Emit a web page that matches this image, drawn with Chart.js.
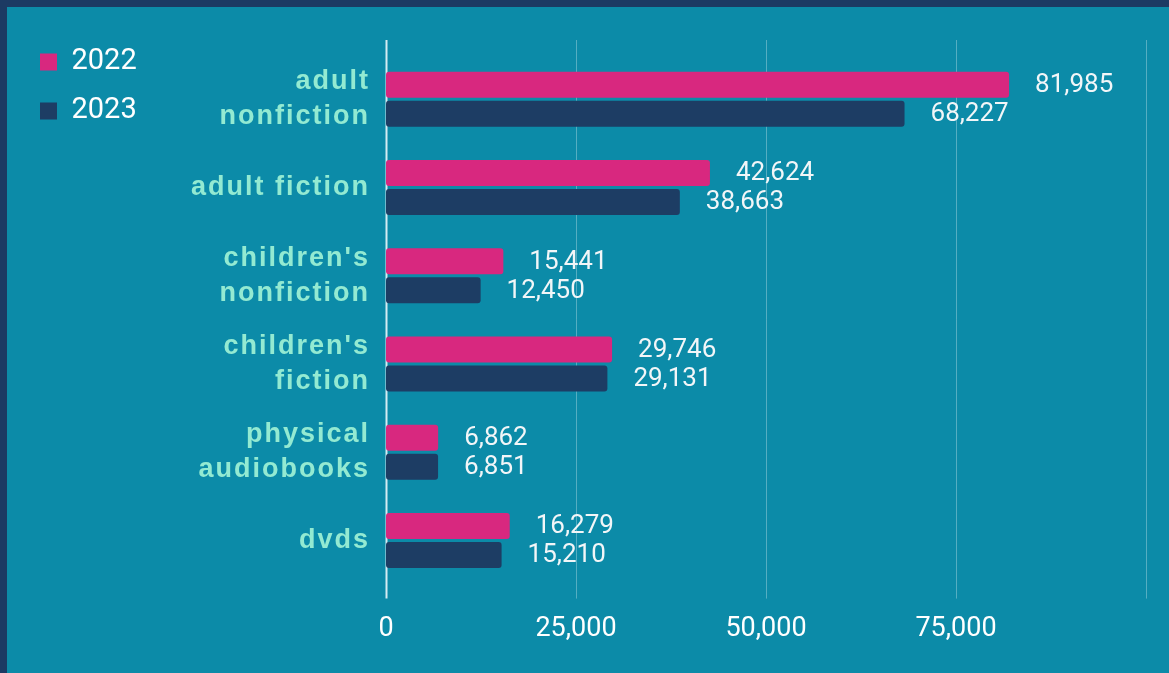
<!DOCTYPE html>
<html>
<head>
<meta charset="utf-8">
<script src="https://cdn.jsdelivr.net/npm/chart.js@4.4.1/dist/chart.umd.min.js"></script>
<style>
  html, body { margin: 0; padding: 0; background: #1c3a63; }
  #wrap { position: absolute; left: 7px; top: 7px; width: 1162px; height: 666px; background: #0c8ba8; }
</style>
</head>
<body>
<div id="wrap"><canvas id="chart"></canvas></div>
<script>
// chart values
var categories = [["adult", "nonfiction"], "adult fiction", ["children's", "nonfiction"], ["children's", "fiction"], ["physical", "audiobooks"], "dvds"];
var series2022 = [81985, 42624, 15441, 29746, 6862, 16279];
var series2023 = [68227, 38663, 12450, 29131, 6851, 15210];
var xTicks = [0, 25000, 50000, 75000, 100000];

// grid lines run a little past the plot area, drawn under the bars
var gridPlugin = {
  id: "gridExtend",
  beforeDraw: function(chart) {
    // letter spacing for the category labels
    var ys = chart.scales.y;
    if (!ys._patched) {
      var origY = ys.drawLabels;
      ys.drawLabels = function(area) {
        this.ctx.save();
        this.ctx.letterSpacing = "2px";
        origY.call(this, area);
        this.ctx.restore();
      };
      ys._patched = true;
    }
  },
  beforeDatasetsDraw: function(chart) {
    var ctx = chart.ctx, x = chart.scales.x, area = chart.chartArea;
    ctx.save();
    xTicks.forEach(function(v) {
      var px = Math.round(x.getPixelForValue(v)) + 0.5;
      ctx.strokeStyle = v === 0 ? "rgba(235,245,250,0.9)" : "rgba(255,255,255,0.3)";
      ctx.lineWidth = v === 0 ? 2 : 1;
      ctx.beginPath();
      ctx.moveTo(px, area.top - 15);
      ctx.lineTo(px, area.bottom + 14);
      ctx.stroke();
    });
    ctx.restore();
  }
};

// value labels to the right of each bar
var valuePlugin = {
  id: "valueLabels",
  afterDatasetsDraw: function(chart) {
    var ctx = chart.ctx;
    ctx.save();
    ctx.font = "26px Roboto";
    ctx.fillStyle = "#f2f6f8";
    ctx.textAlign = "left";
    ctx.textBaseline = "middle";
    chart.data.datasets.forEach(function(ds, i) {
      chart.getDatasetMeta(i).data.forEach(function(bar, j) {
        ctx.fillText(ds.data[j].toLocaleString("en-US"), bar.x + 26, bar.y + 1);
      });
    });
    ctx.restore();
  }
};

var ctx = document.getElementById("chart").getContext("2d");
var chart = new Chart(ctx, {
  type: "bar",
  data: {
    labels: categories,
    datasets: [
      {
        label: "2022",
        data: series2022,
        backgroundColor: "#d8287f",
        borderWidth: 0,
        borderRadius: 3,
        borderSkipped: false,
        categoryPercentage: 0.657,
        barPercentage: 0.897
      },
      {
        label: "2023",
        data: series2023,
        backgroundColor: "#1d3d64",
        borderWidth: 0,
        borderRadius: 3,
        borderSkipped: false,
        categoryPercentage: 0.657,
        barPercentage: 0.897
      }
    ]
  },
  options: {
    indexAxis: "y",
    responsive: true,
    maintainAspectRatio: false,
    animation: false,
    layout: {
      padding: { top: 20.5, left: 13, right: 23, bottom: 0 }
    },
    plugins: {
      tooltip: { enabled: false },
      legend: {
        position: "left",
        align: "start",
        labels: {
          color: "#ffffff",
          font: { family: "Roboto", size: 29 },
          boxWidth: 17,
          boxHeight: 17,
          padding: 20
        }
      }
    },
    scales: {
      x: {
        type: "linear",
        min: 0,
        max: 100000,
        grid: { display: false, drawTicks: false },
        border: { display: false },
        ticks: {
          stepSize: 25000,
          padding: 28,
          color: "#ffffff",
          font: { family: "Roboto", size: 27, lineHeight: 1.2 },
          callback: function(v) {
            return v === 100000 ? null : v.toLocaleString("en-US");
          }
        }
      },
      x2: {
        type: "linear",
        position: "top",
        min: 0,
        max: 100000,
        grid: { display: false, drawTicks: false },
        border: { display: false },
        ticks: { display: false },
        afterFit: function(s) { s.height = 27.5; }
      },
      y: {
        grid: { display: false, drawTicks: false },
        border: { display: false },
        ticks: {
          padding: 16,
          color: "#93ead2",
          font: { family: "'Liberation Sans', Arial", size: 27, weight: "bold", lineHeight: 1.3 }
        },
        afterFit: function(s) {
          s.width = 379 - 13 - s.chart.legend.width;
        }
      }
    }
  },
  plugins: [gridPlugin, valuePlugin]
});
</script>
</body>
</html>
